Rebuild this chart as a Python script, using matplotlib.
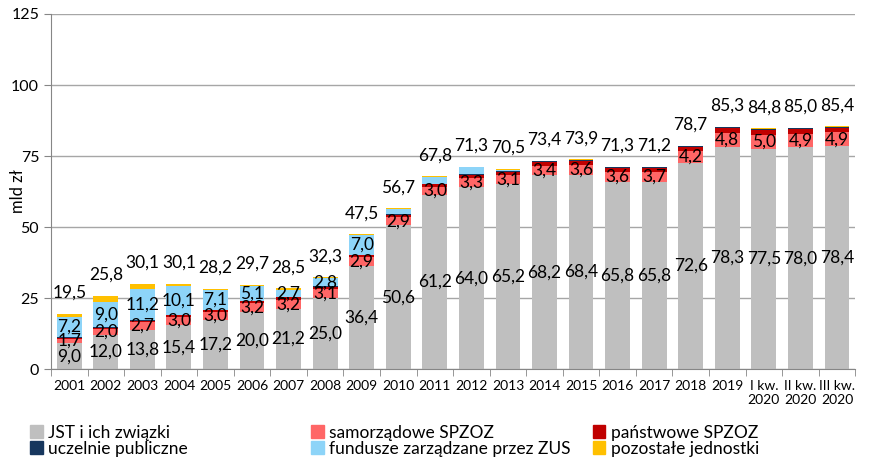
"""Stacked bars: zobowiązania wg grup podmiotów, 2001 - III kw. 2020 (mld zł)."""
import matplotlib
matplotlib.use("Agg")
import matplotlib.pyplot as plt
from matplotlib.patches import Patch
import numpy as np

plt.rcParams["font.family"] = ["Lato", "DejaVu Sans"]

CATS = [str(y) for y in range(2001, 2020)] + ["I kw.\n2020", "II kw.\n2020", "III kw.\n2020"]

jst       = [9.0, 12.0, 13.8, 15.4, 17.2, 20.0, 21.2, 25.0, 36.4, 50.6, 61.2,
             64.0, 65.2, 68.2, 68.4, 65.8, 65.8, 72.6, 78.3, 77.5, 78.0, 78.4]
samorz    = [1.7, 2.0, 2.7, 3.0, 3.0, 3.2, 3.2, 3.1, 2.9, 2.9, 3.0,
             3.3, 3.1, 3.4, 3.6, 3.6, 3.7, 4.2, 4.8, 5.0, 4.9, 4.9]
panstw    = [0.4, 0.5, 0.5, 0.5, 0.5, 0.8, 0.8, 0.9, 0.8, 0.9, 1.0,
             1.1, 1.2, 1.2, 1.2, 1.3, 1.2, 1.3, 1.7, 1.8, 1.6, 1.6]
uczelnie  = [0.1, 0.2, 0.1, 0.2, 0.1, 0.1, 0.1, 0.1, 0.1, 0.1, 0.1,
             0.2, 0.3, 0.3, 0.3, 0.3, 0.3, 0.4, 0.3, 0.3, 0.3, 0.3]
zus       = [7.2, 9.0, 11.2, 10.1, 7.1, 5.1, 2.7, 2.8, 7.0, 1.9, 2.2,
             2.4, 0.4, 0.1, 0.2, 0.1, 0.0, 0.0, 0.0, 0.0, 0.0, 0.0]
pozostale = [1.1, 2.1, 1.8, 0.9, 0.3, 0.5, 0.5, 0.4, 0.3, 0.3, 0.3,
             0.3, 0.3, 0.2, 0.2, 0.2, 0.2, 0.2, 0.2, 0.2, 0.2, 0.2]
totals    = [19.5, 25.8, 30.1, 30.1, 28.2, 29.7, 28.5, 32.3, 47.5, 56.7, 67.8,
             71.3, 70.5, 73.4, 73.9, 71.3, 71.2, 78.7, 85.3, 84.8, 85.0, 85.4]

SERIES = [
    ("JST i ich związki", jst, "#BFBFBF", True),
    ("samorządowe SPZOZ", samorz, "#FF6666", True),
    ("państwowe SPZOZ", panstw, "#C00000", False),
    ("uczelnie publiczne", uczelnie, "#17375E", False),
    ("fundusze zarządzane przez ZUS", zus, "#8DD4F8", "zus"),
    ("pozostałe jednostki", pozostale, "#FFC000", False),
]

fig = plt.figure(figsize=(8.7, 4.59), dpi=100)
ax = fig.add_axes([0.0586, 0.196, 0.9244, 0.7735])

x = np.arange(len(CATS))
bottom = np.zeros(len(CATS))
for name, vals, col, lab in SERIES:
    vals = np.array(vals)
    ax.bar(x, vals, 0.68, bottom=bottom, color=col, zorder=2)
    if lab:
        for i, v in enumerate(vals):
            if lab == "zus" and i > 8:
                continue
            ax.text(i, bottom[i] + v / 2, f"{v:.1f}".replace(".", ","),
                    ha="center", va="center", fontsize=12.5, zorder=3)
    bottom += vals

for i, t in enumerate(totals):
    ax.annotate(f"{t:.1f}".replace(".", ","), (i, t), xytext=(0, 15),
                textcoords="offset points", ha="center", va="center",
                fontsize=12.5)

ax.set_xlim(-0.5, len(CATS) - 0.5)
ax.set_ylim(0, 125)
ax.set_yticks([0, 25, 50, 75, 100, 125])
ax.tick_params(axis="y", labelsize=11.5, length=5, color="#868686")
ax.set_xticks(x)
ax.set_xticklabels(CATS, fontsize=10)
ax.tick_params(axis="x", length=0, pad=8)
ax.set_xticks(np.arange(-0.5, len(CATS)), minor=True)
ax.tick_params(axis="x", which="minor", length=5, color="#868686")
ax.grid(axis="y", color="#A6A6A6", lw=1, zorder=0)
for s in ["top", "right"]:
    ax.spines[s].set_visible(False)
for s in ["left", "bottom"]:
    ax.spines[s].set_color("#868686")
ax.set_ylabel("mld zł", fontsize=12)
ax.yaxis.set_label_coords(-0.031, 0.5)

cols = [(0.035, SERIES[0], SERIES[3]), (0.358, SERIES[1], SERIES[4]),
        (0.682, SERIES[2], SERIES[5])]
for xpos, a, b in cols:
    h = [Patch(color=a[2]), Patch(color=b[2])]
    fig.legend(h, [a[0], b[0]], loc="upper left",
               bbox_to_anchor=(xpos, 0.075), frameon=False,
               fontsize=12.5, handlelength=0.7, handleheight=0.7,
               handletextpad=0.3, labelspacing=0.0, borderpad=0,
               borderaxespad=0)

fig.savefig("out.png", dpi=100)
